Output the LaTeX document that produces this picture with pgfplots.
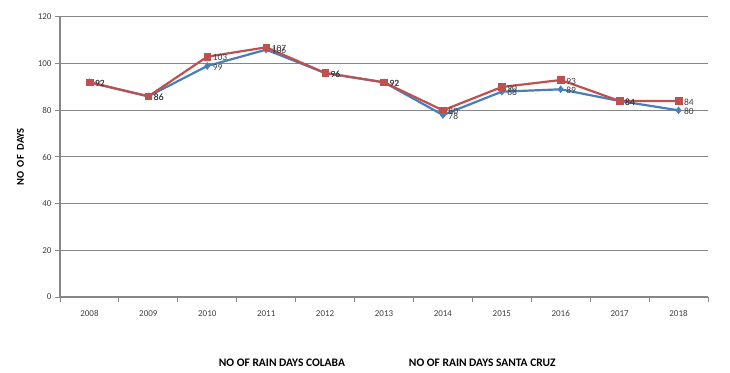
\documentclass[border=0pt]{standalone}
\usepackage{pgfplots}
\pgfplotsset{compat=1.18}
\usepackage{fontspec}
\setmainfont{Carlito}
\definecolor{cblue}{HTML}{4A7EBB}
\definecolor{cred}{HTML}{C0504D}
\definecolor{cgrid}{HTML}{868686}
\definecolor{ctext}{HTML}{404040}
\begin{document}
\begin{tikzpicture}[x=1pt,y=1pt]
\path[use as bounding box] (0,0) rectangle (730,372);
\begin{axis}[
  at={(60pt,75pt)}, anchor=south west,
  scale only axis, width=648pt, height=280pt,
  xmin=-0.5, xmax=10.5, ymin=0, ymax=120,
  ytick={0,20,...,120},
  xtick={0,...,10},
  xticklabels={2008,2009,2010,2011,2012,2013,2014,2015,2016,2017,2018},
  minor xtick={-0.5,0.5,...,10.5},
  major x tick style={draw=none},
  minor x tick style={draw=cgrid, line width=1pt},
  tick align=outside,
  major tick length=5pt, minor tick length=5pt,
  y tick style={draw=cgrid, line width=1pt},
  axis x line*=bottom, axis y line*=left,
  axis line style={draw=cgrid, line width=1.2pt, -},
  ymajorgrids, grid style={draw=cgrid, line width=1pt},
  tick label style={font=\fontsize{9}{10}\selectfont, text=ctext},
  /pgf/number format/assume math mode=true,
  xticklabel style={yshift=-5pt},
  ylabel={\textbf{NO\ \ OF\ \ DAYS}},
  ylabel style={font=\fontsize{10.5}{12}\selectfont, at={(axis description cs:-0.05,0.5)}},
  legend style={at={(0.505,-0.205)}, anchor=north, draw=none, fill=none,
    font=\bfseries\fontsize{11.5}{13}\selectfont, legend columns=2,
    /tikz/every even column/.append style={column sep=60pt}},
  legend image code/.code={},
  nodes near coords,
  every node near coord/.append style={font=\fontsize{9.5}{10}\selectfont, text=ctext},
  clip=false,
]
\addplot[color=cblue, line width=2.2pt, mark=diamond*, mark size=3.5pt,
  mark options={fill=cblue, line width=0.5pt},
  every node near coord/.append style={anchor=west, xshift=2pt, yshift=-1pt}]
  coordinates {(0,92)(1,86)(2,99)(3,106)(4,96)(5,92)(6,78)(7,88)(8,89)(9,84)(10,80)};
\addlegendentry{NO OF RAIN DAYS COLABA}
\addplot[color=cred, line width=2.2pt, mark=square*, mark size=3.3pt,
  mark options={fill=cred, line width=0.5pt},
  every node near coord/.append style={anchor=west, xshift=2pt, yshift=-1pt}]
  coordinates {(0,92)(1,86)(2,103)(3,107)(4,96)(5,92)(6,80)(7,90)(8,93)(9,84)(10,84)};
\addlegendentry{NO OF RAIN DAYS SANTA CRUZ}
\end{axis}
\end{tikzpicture}
\end{document}
